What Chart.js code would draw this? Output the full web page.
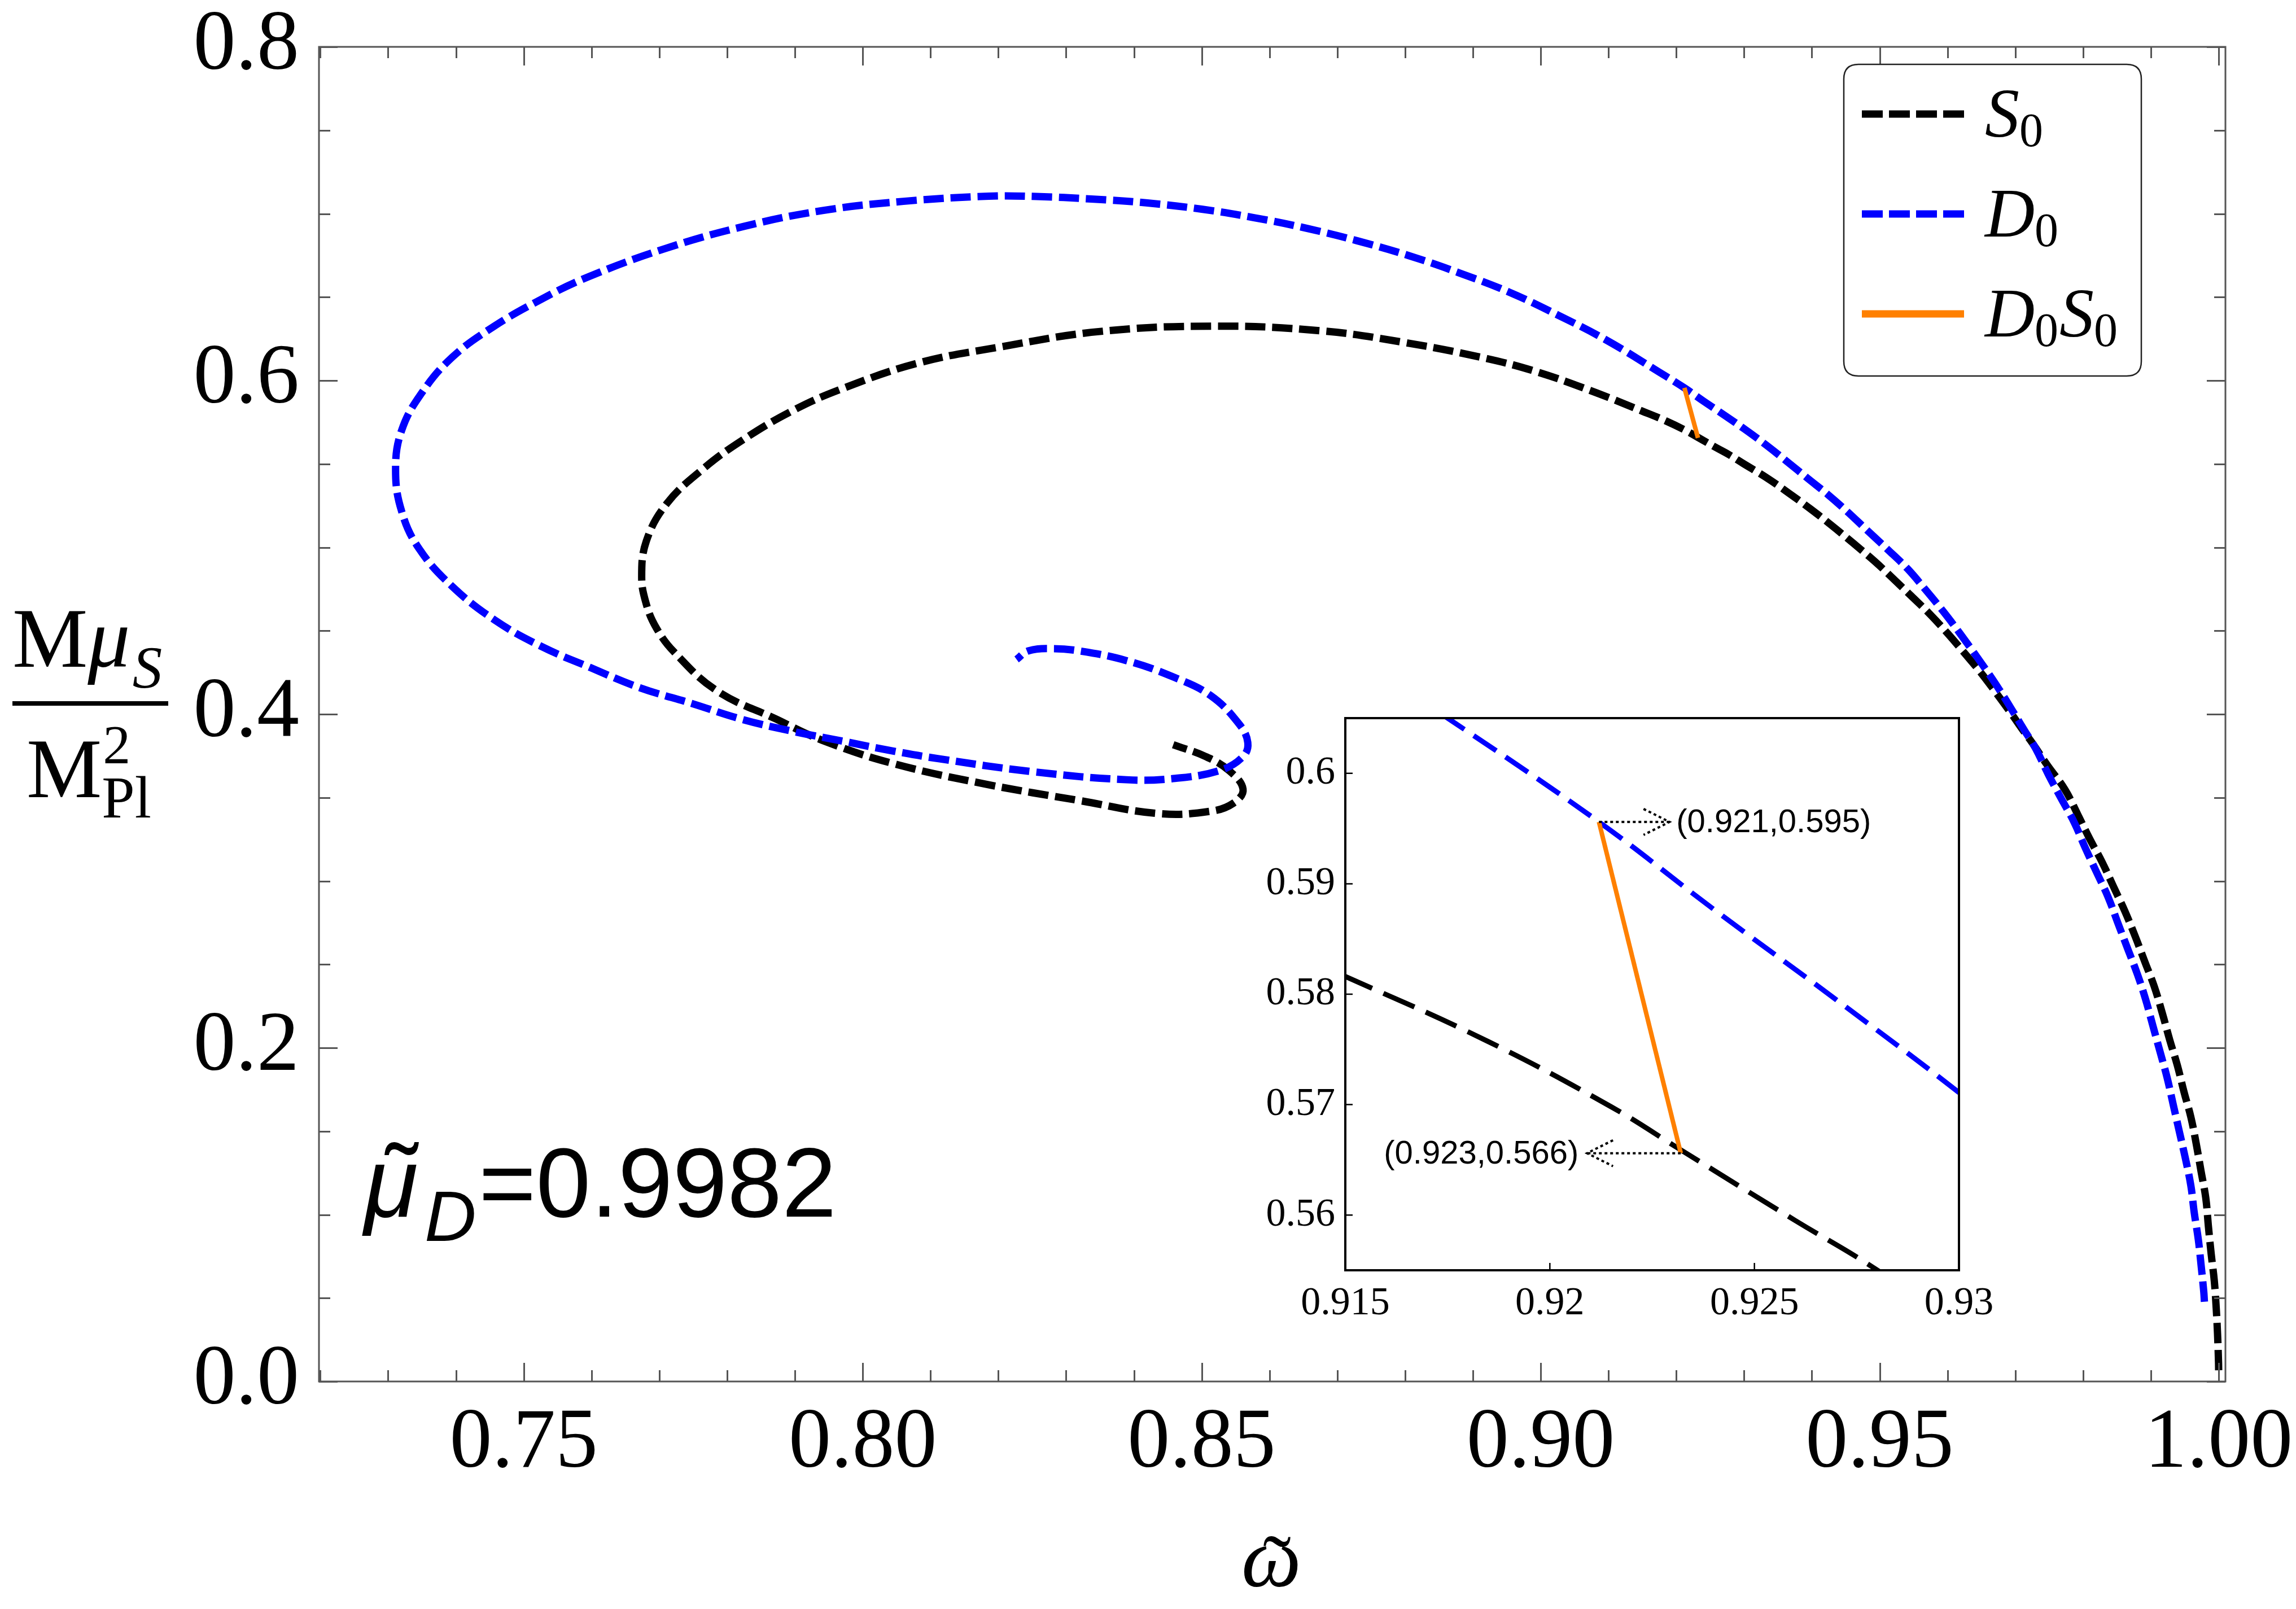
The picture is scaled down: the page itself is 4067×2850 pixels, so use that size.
<!DOCTYPE html>
<html><head><meta charset="utf-8">
<script src="https://cdn.jsdelivr.net/npm/chart.js@4.4.0/dist/chart.umd.min.js"></script>
<style>
html,body{margin:0;padding:0;background:#fff;}
#wrap{position:relative;width:4067px;height:2850px;overflow:hidden;}
#main{position:absolute;left:0;top:0;width:4067px;height:2850px;}
#inset{position:absolute;left:2150px;top:1230px;width:1420px;height:1140px;}
</style></head><body>
<div id="wrap"><canvas id="main" width="4067" height="2850"></canvas><canvas id="inset" width="1420" height="1140"></canvas></div>
<script>
// ---------------- data ----------------
const s0Omega = [1.0000,0.99998,0.99983,0.99964,0.99936,0.9989,0.9985,0.9981,0.9974,0.9967,0.9959,0.9949,0.9939,0.9928,0.9917,0.9905,0.9891,0.9877,0.9862,0.9845,0.9828,0.9810,0.9792,0.9773,0.9748,0.9725,0.9712,0.9693,0.9671,0.9649,0.9626,0.9600,0.9574,0.9548,0.9520,0.9493,0.9461,0.9429,0.9398,0.9366,0.9333,0.9299,0.9278,0.9260,0.9232,0.9215,0.9185,0.9150,0.9083,0.8992,0.8911,0.8796,0.8676,0.8519,0.8350,0.8201,0.8082,0.7971,0.7897,0.7822,0.7763,0.7711,0.7681,0.7674,0.7681,0.7696,0.7722,0.7785,0.7871,0.7940,0.8043,0.8182,0.8320,0.8437,0.8513,0.8547,0.8561,0.8540,0.8506,0.8458];
const s0Mass  = [0.0067,0.0117,0.0291,0.0440,0.0602,0.0764,0.0925,0.1100,0.1261,0.1423,0.1585,0.1734,0.1896,0.2045,0.2206,0.2368,0.2517,0.2667,0.2816,0.2965,0.3114,0.3251,0.3400,0.3550,0.3690,0.3828,0.3900,0.4010,0.4132,0.4250,0.4362,0.4485,0.4600,0.4703,0.4812,0.4915,0.5025,0.5132,0.5230,0.5325,0.5418,0.5502,0.5555,0.5595,0.5659,0.5698,0.5757,0.5816,0.5925,0.6055,0.6140,0.6230,0.6298,0.6326,0.6294,0.6200,0.6105,0.5953,0.5820,0.5641,0.5465,0.5262,0.5039,0.4822,0.4657,0.4514,0.4372,0.4140,0.3973,0.3844,0.3706,0.3580,0.3482,0.3404,0.3418,0.3467,0.3550,0.3663,0.3746,0.3817];
const d0Omega = [0.9979,0.9978,0.9974,0.9970,0.9964,0.9959,0.9951,0.9942,0.9933,0.9924,0.9914,0.9903,0.9892,0.9880,0.9866,0.9852,0.9837,0.9820,0.9803,0.9787,0.9767,0.9749,0.9730,0.9714,0.9699,0.9676,0.9651,0.9617,0.9593,0.9567,0.9541,0.9511,0.9481,0.9452,0.9424,0.9394,0.9364,0.9333,0.9301,0.9270,0.9240,0.9212,0.9175,0.9097,0.9025,0.8954,0.8882,0.8806,0.8729,0.8653,0.8576,0.8500,0.8418,0.8337,0.8256,0.8186,0.8060,0.7941,0.7826,0.7711,0.7595,0.7525,0.7454,0.7395,0.7350,0.7320,0.7311,0.7320,0.7346,0.7395,0.7458,0.7525,0.7599,0.7671,0.7748,0.7822,0.7896,0.7971,0.8045,0.8112,0.8251,0.8389,0.8458,0.8527,0.8561,0.8568,0.8555,0.8513,0.8458,0.8389,0.8320,0.8278,0.8244,0.8227];
const d0Mass  = [0.0478,0.0540,0.0701,0.0851,0.1012,0.1174,0.1336,0.1498,0.1659,0.1821,0.1970,0.2132,0.2294,0.2443,0.2592,0.2741,0.2903,0.3052,0.3201,0.3351,0.3500,0.3637,0.3795,0.3900,0.4000,0.4150,0.4300,0.4492,0.4620,0.4749,0.4872,0.4990,0.5104,0.5215,0.5315,0.5413,0.5512,0.5612,0.5708,0.5795,0.5877,0.5956,0.6050,0.6242,0.6393,0.6529,0.6642,0.6748,0.6838,0.6914,0.6977,0.7027,0.7065,0.7088,0.7103,0.7105,0.7074,0.7019,0.6925,0.6794,0.6621,0.6485,0.6319,0.6141,0.5928,0.5702,0.5465,0.5215,0.4990,0.4764,0.4562,0.4408,0.4278,0.4159,0.4064,0.3969,0.3898,0.3838,0.3779,0.3733,0.3655,0.3607,0.3614,0.3663,0.3746,0.3830,0.3942,0.4112,0.4223,0.4321,0.4379,0.4393,0.4379,0.4328];
const d0s0Omega = [0.9212,0.9232];
const d0s0Mass  = [0.5956,0.5656];

const seriesNames = ['S0','D0','D0S0'];
const xTickValues = [0.75,0.80,0.85,0.90,0.95,1.00];
const xTickLabels = ['0.75','0.80','0.85','0.90','0.95','1.00'];
const yTickValues = [0.0,0.2,0.4,0.6,0.8];
const yTickLabels = ['0.0','0.2','0.4','0.6','0.8'];
const insetXTickValues = [0.915,0.92,0.925,0.93];
const insetXTickLabels = ['0.915','0.92','0.925','0.93'];
const insetYTickValues = [0.56,0.57,0.58,0.59,0.60];
const insetYTickLabels = ['0.56','0.57','0.58','0.59','0.6'];
const annoOmega = [0.9212,0.9232];
const annoMass = [0.5956,0.5656];
const annoLabels = ['(0.921,0.595)','(0.923,0.566)'];
const muDLabel = '=0.9982';

const toPts = (xs, ys) => xs.map((x, i) => ({x: x, y: ys[i]}));

const SERIF = '"Liberation Serif", "Times New Roman", serif';
const SANS = '"Liberation Sans", Arial, sans-serif';

// ---------------- main chart ----------------
const mainDecor = {
  id: 'mainDecor',
  beforeDraw(c) {
    const ctx = c.ctx; ctx.save(); ctx.fillStyle = '#fff'; ctx.fillRect(0, 0, c.width, c.height); ctx.restore();
  },
  afterDraw(c) {
    const ctx = c.ctx, a = c.chartArea, sx = c.scales.x, sy = c.scales.y;
    ctx.save();
    ctx.strokeStyle = '#555'; ctx.lineWidth = 3;
    ctx.strokeRect(a.left, a.top, a.right - a.left, a.bottom - a.top);
    ctx.beginPath();
    for (let k = 72; k <= 100; k++) {
      const v = k / 100; if (v < sx.min || v > sx.max) continue;
      const p = Math.round(sx.getPixelForValue(v)) + 0.5;
      const len = (k % 5 === 0) ? 33 : 20;
      ctx.moveTo(p, a.bottom); ctx.lineTo(p, a.bottom - len);
      ctx.moveTo(p, a.top); ctx.lineTo(p, a.top + len);
    }
    for (let k = 0; k <= 16; k++) {
      const v = k * 0.05;
      const p = Math.round(sy.getPixelForValue(v)) + 0.5;
      const len = (k % 4 === 0) ? 33 : 20;
      ctx.moveTo(a.left, p); ctx.lineTo(a.left + len, p);
      ctx.moveTo(a.right, p); ctx.lineTo(a.right - len, p);
    }
    ctx.stroke();

    // legend
    const lx = 3266, ly = 114, lw = 527, lh = 552, r = 26;
    ctx.beginPath();
    ctx.moveTo(lx + r, ly); ctx.lineTo(lx + lw - r, ly); ctx.quadraticCurveTo(lx + lw, ly, lx + lw, ly + r);
    ctx.lineTo(lx + lw, ly + lh - r); ctx.quadraticCurveTo(lx + lw, ly + lh, lx + lw - r, ly + lh);
    ctx.lineTo(lx + r, ly + lh); ctx.quadraticCurveTo(lx, ly + lh, lx, ly + lh - r);
    ctx.lineTo(lx, ly + r); ctx.quadraticCurveTo(lx, ly, lx + r, ly); ctx.closePath();
    ctx.fillStyle = '#fff'; ctx.fill(); ctx.strokeStyle = '#222'; ctx.lineWidth = 2.5; ctx.stroke();
    const rows = [202, 379, 556];
    c.data.datasets.forEach((ds, i) => {
      const yy = rows[i];
      ctx.save();
      ctx.strokeStyle = ds.borderColor; ctx.lineWidth = 13; ctx.lineCap = 'butt';
      ctx.setLineDash(ds.borderDash && ds.borderDash.length ? [37, 11] : []);
      ctx.beginPath(); ctx.moveTo(3298, yy); ctx.lineTo(3479, yy); ctx.stroke();
      ctx.restore();
      ctx.fillStyle = '#000'; ctx.textBaseline = 'alphabetic'; ctx.textAlign = 'left';
      let x = 3516; const base = yy + 40;
      const name = seriesNames[i];
      for (let j = 0; j < name.length; j++) {
        const ch = name[j];
        if (/[0-9]/.test(ch)) {
          ctx.font = '84px ' + SERIF; ctx.fillText(ch, x, base + 17); x += ctx.measureText(ch).width + 2;
        } else {
          ctx.font = 'italic 122px ' + SERIF; ctx.fillText(ch, x, base); x += ctx.measureText(ch).width;
        }
      }
    });

    // y-axis title (fraction)
    ctx.fillStyle = '#000'; ctx.textAlign = 'left'; ctx.textBaseline = 'alphabetic';
    ctx.font = '150px ' + SERIF; ctx.fillText('M', 22, 1181);
    const wM = ctx.measureText('M').width;
    ctx.font = 'italic 150px ' + SERIF; ctx.fillText('\u03bc', 22 + wM, 1181);
    const wMu = ctx.measureText('\u03bc').width;
    ctx.font = 'italic 105px ' + SERIF; ctx.fillText('S', 22 + wM + wMu + 4, 1218);
    ctx.fillRect(22, 1242, 276, 8);
    ctx.font = '150px ' + SERIF; ctx.fillText('M', 47, 1412);
    ctx.font = '98px ' + SERIF; ctx.fillText('2', 47 + wM + 2, 1352);
    ctx.font = '105px ' + SERIF; ctx.fillText('Pl', 47 + wM, 1448);

    // x-axis title
    ctx.textAlign = 'center';
    ctx.font = 'italic 150px ' + SERIF; ctx.fillText('\u03c9', 2252, 2810);
    ctx.font = '150px ' + SERIF; ctx.fillText('\u02dc', 2262, 2822);

    // mu_D text
    ctx.textAlign = 'left';
    ctx.font = 'italic 174px ' + SANS; ctx.fillText('\u03bc', 645, 2155);
    ctx.font = '174px ' + SANS; ctx.textAlign = 'center'; ctx.fillText('\u02dc', 712, 2148);
    ctx.textAlign = 'left';
    ctx.font = 'italic 127px ' + SANS; ctx.fillText('D', 752, 2198);
    ctx.font = '174px ' + SANS; ctx.fillText(muDLabel, 848, 2155);
    ctx.restore();
  }
};

const zeroPad = s => { s.paddingLeft = 0; s.paddingRight = 0; s.paddingTop = 0; s.paddingBottom = 0; };

const mainChart = new Chart(document.getElementById('main'), {
  type: 'scatter',
  data: {
    datasets: [
      {label: 'S0', data: toPts(s0Omega, s0Mass), showLine: true, borderColor: '#000000', borderWidth: 13, borderDash: [36, 12], pointRadius: 0, tension: 0.4, fill: false, order: 3},
      {label: 'D0', data: toPts(d0Omega, d0Mass), showLine: true, borderColor: '#0000ff', borderWidth: 13, borderDash: [36, 12], pointRadius: 0, tension: 0.4, fill: false, order: 2},
      {label: 'D0S0', data: toPts(d0s0Omega, d0s0Mass), showLine: true, borderColor: '#ff8000', borderWidth: 8, borderDash: [], pointRadius: 0, tension: 0, fill: false, order: 1}
    ]
  },
  options: {
    responsive: false, devicePixelRatio: 1, animation: false,
    layout: {padding: {left: 0, top: 83, right: 125, bottom: 0}},
    plugins: {legend: {display: false}, tooltip: {enabled: false}},
    scales: {
      x: {
        type: 'linear', min: 0.7198, max: 1.001,
        afterBuildTicks: s => { s.ticks = xTickValues.map(v => ({value: v})); },
        afterFit: s => { s.height = 2850 - 2447; zeroPad(s); },
        ticks: {callback: (v, i) => xTickLabels[i], font: {family: 'Liberation Serif', size: 150, lineHeight: 1}, color: '#000', padding: 29, autoSkip: false, maxRotation: 0, minRotation: 0},
        grid: {display: false}, border: {display: false}
      },
      y: {
        type: 'linear', min: 0, max: 0.8,
        afterBuildTicks: s => { s.ticks = yTickValues.map(v => ({value: v})); },
        afterFit: s => { s.width = 565; zeroPad(s); },
        ticks: {callback: (v, i) => yTickLabels[i], font: {family: 'Liberation Serif', size: 150, lineHeight: 1}, color: '#000', padding: 27, autoSkip: false},
        grid: {display: false}, border: {display: false}
      }
    }
  },
  plugins: [mainDecor]
});

// ---------------- inset chart ----------------
const insetDecor = {
  id: 'insetDecor',
  beforeDatasetsDraw(c) {
    const ctx = c.ctx, a = c.chartArea;
    ctx.save(); ctx.fillStyle = '#fff'; ctx.fillRect(a.left, a.top, a.right - a.left, a.bottom - a.top); ctx.restore();
  },
  afterDraw(c) {
    const ctx = c.ctx, a = c.chartArea, sx = c.scales.x, sy = c.scales.y;
    ctx.save();
    ctx.strokeStyle = '#000'; ctx.lineWidth = 4;
    ctx.strokeRect(a.left, a.top, a.right - a.left, a.bottom - a.top);
    ctx.lineWidth = 2.5; ctx.beginPath();
    insetXTickValues.forEach(v => { const p = sx.getPixelForValue(v); ctx.moveTo(p, a.bottom); ctx.lineTo(p, a.bottom - 13); });
    insetYTickValues.forEach(v => { const p = sy.getPixelForValue(v); ctx.moveTo(a.left, p); ctx.lineTo(a.left + 13, p); });
    ctx.stroke();
    ctx.fillStyle = '#000'; ctx.strokeStyle = '#000';
    ctx.font = '58px ' + SANS; ctx.textBaseline = 'middle';
    annoOmega.forEach((ox, i) => {
      const px = sx.getPixelForValue(ox), py = sy.getPixelForValue(annoMass[i]);
      const dir = i === 0 ? 1 : -1;
      const len = i === 0 ? 125 : 166;
      const tip = px + dir * len;
      ctx.save(); ctx.lineWidth = 4; ctx.setLineDash([5, 5]);
      ctx.beginPath(); ctx.moveTo(px, py); ctx.lineTo(tip, py); ctx.stroke();
      ctx.beginPath(); ctx.moveTo(tip - dir * 46, py - 23); ctx.lineTo(tip, py); ctx.lineTo(tip - dir * 46, py + 23); ctx.stroke();
      ctx.restore();
      if (dir > 0) { ctx.textAlign = 'left'; ctx.fillText(annoLabels[i], tip + 12, py + 2); }
      else { ctx.textAlign = 'right'; ctx.fillText(annoLabels[i], tip - 15, py + 2); }
    });
    ctx.restore();
  }
};

const insetChart = new Chart(document.getElementById('inset'), {
  type: 'scatter',
  data: {
    datasets: [
      {label: 'S0', data: toPts(s0Omega, s0Mass), showLine: true, borderColor: '#000000', borderWidth: 9, borderDash: [60, 22], pointRadius: 0, tension: 0.4, clip: 0, order: 3},
      {label: 'D0', data: toPts(d0Omega, d0Mass), showLine: true, borderColor: '#0000ff', borderWidth: 9, borderDash: [48, 20], pointRadius: 0, tension: 0.4, clip: 0, order: 2},
      {label: 'D0S0', data: toPts(d0s0Omega, d0s0Mass), showLine: true, borderColor: '#ff8000', borderWidth: 8, borderDash: [], pointRadius: 0, tension: 0, clip: 0, order: 1}
    ]
  },
  options: {
    responsive: false, devicePixelRatio: 1, animation: false,
    layout: {padding: {left: 0, top: 42, right: 100, bottom: 0}},
    plugins: {legend: {display: false}, tooltip: {enabled: false}},
    scales: {
      x: {
        type: 'linear', min: 0.915, max: 0.93,
        afterBuildTicks: s => { s.ticks = insetXTickValues.map(v => ({value: v})); },
        afterFit: s => { s.height = 120; zeroPad(s); },
        ticks: {callback: (v, i) => insetXTickLabels[i], font: {family: 'Liberation Serif', size: 70, lineHeight: 1}, color: '#000', padding: 17, autoSkip: false, maxRotation: 0, minRotation: 0},
        grid: {display: false}, border: {display: false}
      },
      y: {
        type: 'linear', min: 0.555, max: 0.605,
        afterBuildTicks: s => { s.ticks = insetYTickValues.map(v => ({value: v})); },
        afterFit: s => { s.width = 233; zeroPad(s); },
        ticks: {callback: (v, i) => insetYTickLabels[i], font: {family: 'Liberation Serif', size: 70, lineHeight: 1}, color: '#000', padding: 10, autoSkip: false},
        grid: {display: false}, border: {display: false}
      }
    }
  },
  plugins: [insetDecor]
});
</script>
</body></html>
